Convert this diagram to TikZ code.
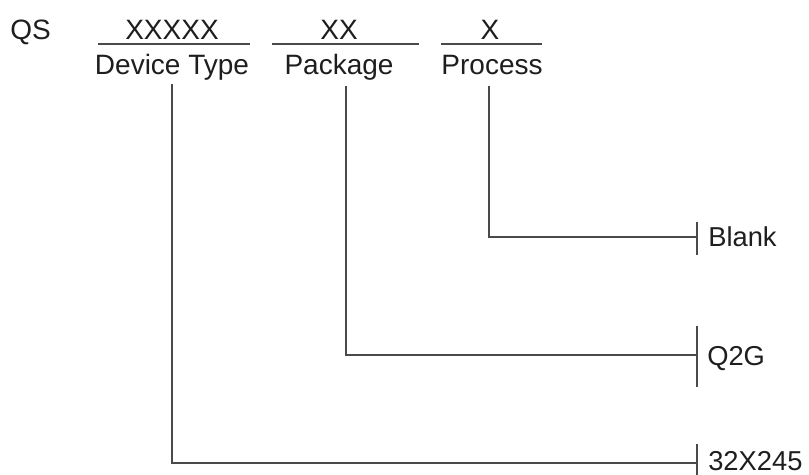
\documentclass[tikz,border=0pt]{standalone}
\usepackage{fontspec}
\setmainfont{Liberation Sans}
\definecolor{txt}{HTML}{1E1E1E}
\definecolor{ln}{HTML}{4A4A4A}
\begin{document}
\begin{tikzpicture}[x=0.75pt,y=-0.75pt,
  lbl/.style={inner sep=0pt,text=txt,font=\fontsize{21pt}{24pt}\selectfont},
  side/.style={inner sep=0pt,text=txt,font=\fontsize{20.5pt}{24pt}\selectfont},
  conn/.style={draw=ln,line width=1pt},
  rule/.style={draw=ln,line width=1pt}]
\useasboundingbox (0,0) rectangle (809,474);
% top row
\node[lbl,anchor=base west] (qs) at (10,40) {QS};
\node[lbl,anchor=base] (xdev) at (172,40) {XXXXX};
\node[lbl,anchor=base] (xpkg) at (339,40) {XX};
\node[lbl,anchor=base] (xproc) at (490,40) {X};
\node[lbl,anchor=base] (dev) at (172,75) {Device Type};
\node[lbl,anchor=base] (pkg) at (339,75) {Package};
\node[lbl,anchor=base] (proc) at (492,75) {Process};
% underlines
\coordinate (u1a) at (98,44); \coordinate (u1b) at (250,44);
\coordinate (u2a) at (272,44); \coordinate (u2b) at (419,44);
\coordinate (u3a) at (441,44); \coordinate (u3b) at (542,44);
\draw[rule] (u1a) -- (u1b);
\draw[rule] (u2a) -- (u2b);
\draw[rule] (u3a) -- (u3b);
% right labels
\node[side,anchor=base west] (blank) at (708,246) {Blank};
\node[side,anchor=base west] (q2g) at (707,365) {Q2G};
\node[side,anchor=base west] (code) at (708,470) {32X245};
% ticks
\coordinate (t1a) at (697,222); \coordinate (t1b) at (697,255);
\coordinate (t2a) at (697,326); \coordinate (t2b) at (697,387);
\coordinate (t3a) at (697,444); \coordinate (t3b) at (697,480);
\draw[rule] (t1a) -- (t1b);
\draw[rule] (t2a) -- (t2b);
\draw[rule] (t3a) -- (t3b);
% connectors
\coordinate (procTop) at (489,86);
\coordinate (pkgTop) at (346,86);
\coordinate (devTop) at (172,84);
\coordinate (e1) at (697,237);
\coordinate (e2) at (697,355);
\coordinate (e3) at (697,463);
\draw[conn] (procTop) |- (e1);
\draw[conn] (pkgTop) |- (e2);
\draw[conn] (devTop) |- (e3);
\end{tikzpicture}
\end{document}
